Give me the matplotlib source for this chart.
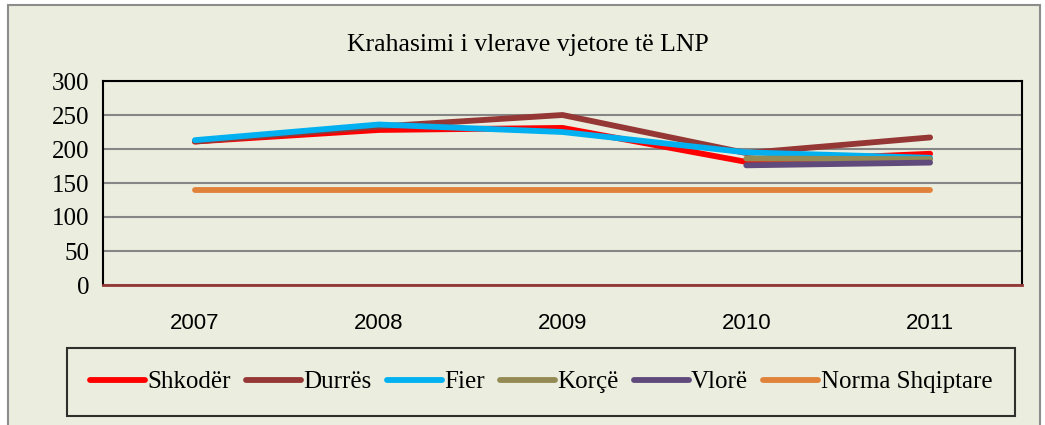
import numpy as np
import matplotlib.pyplot as plt
from matplotlib.patches import Rectangle

years = ['2007', '2008', '2009', '2010', '2011']
shkoder = [211, 228, 231, 181, 193]
durres = [211, 233, 250, 194, 217]
fier = [213, 236, 225, 195, 187]
korce = [np.nan, np.nan, np.nan, 186, 185]
vlore = [np.nan, np.nan, np.nan, 176, 180]
norma = [140, 140, 140, 140, 140]

series = [
    ('Shkodër', shkoder, '#FF0000'),
    ('Durrës', durres, '#953735'),
    ('Fier', fier, '#00B0F0'),
    ('Korçë', korce, '#948A54'),
    ('Vlorë', vlore, '#604A7B'),
    ('Norma Shqiptare', norma, '#E0823A'),
]

bg = '#EBEEDE'
serif = 'Liberation Serif'

fig = plt.figure(figsize=(10.45, 4.25), dpi=100)
fig.patch.set_facecolor('white')
fig.patches.append(Rectangle((8 / 1045, -0.01), 1032 / 1045, 1 - 5 / 425 + 0.01,
                             transform=fig.transFigure, facecolor=bg,
                             edgecolor='#8C8C8C', linewidth=1.5, zorder=-10))

ax = fig.add_axes([103 / 1045, 1 - 285 / 425, 919 / 1045, 204 / 425])
ax.set_facecolor(bg)

x = np.arange(len(years))
for name, vals, color in series:
    ax.plot(x, vals, color=color, linewidth=4.2, solid_capstyle='round',
            solid_joinstyle='round', label=name, zorder=3)

ax.set_xlim(-0.5, len(years) - 0.5)
ax.set_ylim(0, 300)
ax.set_yticks(range(0, 301, 50))
ax.set_xticks(x)
ax.set_xticklabels(years, fontfamily='Liberation Sans', fontsize=16)
for lbl in ax.get_yticklabels():
    lbl.set_fontfamily(serif)
    lbl.set_fontsize(18)
ax.tick_params(axis='both', length=0)
ax.tick_params(axis='x', pad=20)
ax.tick_params(axis='y', pad=10)
ax.grid(axis='y', color='#868686', linewidth=1.5, zorder=1)

for side in ['top', 'left', 'right']:
    ax.spines[side].set_color('black')
    ax.spines[side].set_linewidth(1.5)
ax.spines['bottom'].set_color('#953735')
ax.spines['bottom'].set_linewidth(2)

fig.text(0.505, 1 - 45 / 425, 'Krahasimi i vlerave vjetore të LNP',
         ha='center', va='center', fontfamily=serif, fontsize=18.5)

leg = fig.legend(loc='center', bbox_to_anchor=(541 / 1045, 1 - 382 / 425),
                 ncol=6, frameon=True, fancybox=False, handlelength=2.2,
                 handletextpad=0.1, columnspacing=0.6, borderpad=0.9,
                 prop={'family': serif, 'size': 18})
leg.get_frame().set_edgecolor('black')
leg.get_frame().set_linewidth(1.5)
leg.get_frame().set_facecolor(bg)

fig.savefig('out.png', dpi=100, facecolor=fig.get_facecolor())
